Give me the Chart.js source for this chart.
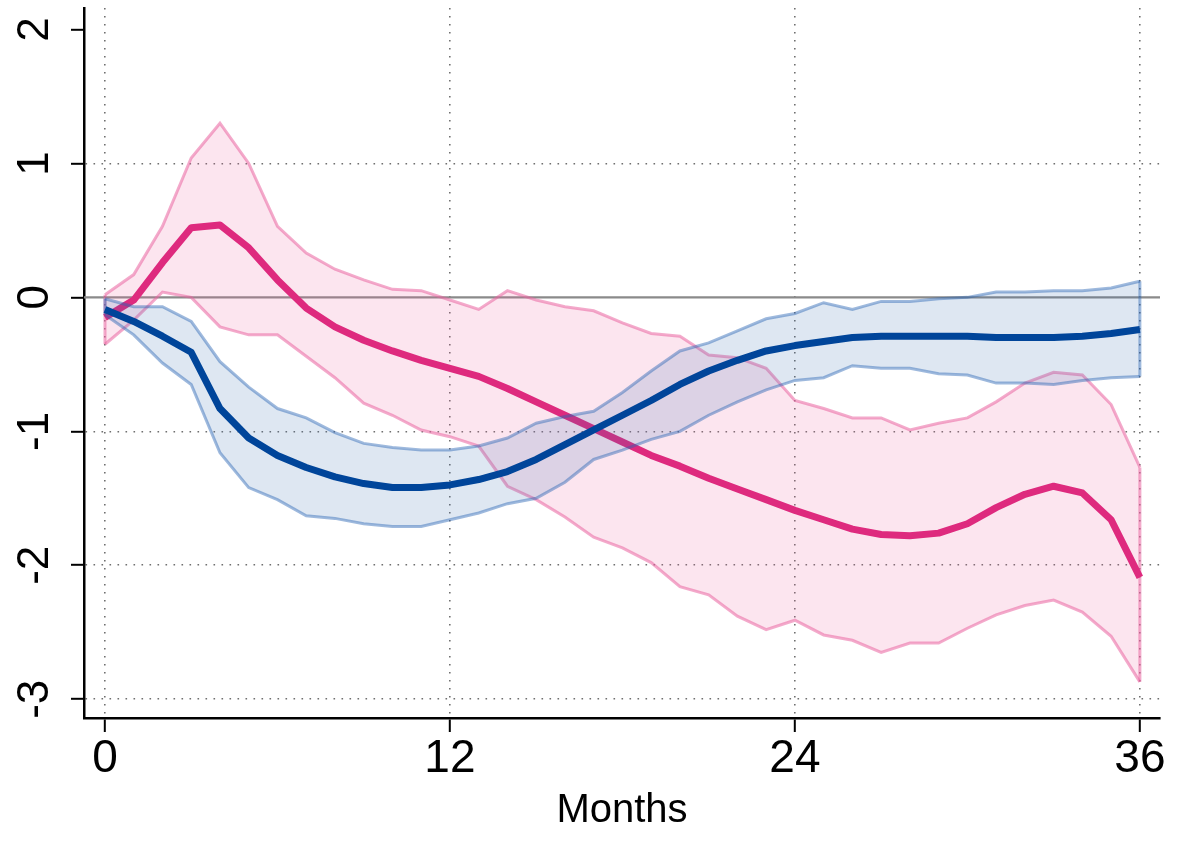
<!DOCTYPE html>
<html>
<head>
<meta charset="utf-8">
<script src="https://cdn.jsdelivr.net/npm/chart.js@4.4.1/dist/chart.umd.min.js"></script>
<style>
  html, body { margin: 0; padding: 0; background: #fff; }
  #c { display: block; }
</style>
</head>
<body>
<canvas id="c" width="1177" height="843"></canvas>
<script>
const months = [0,1,2,3,4,5,6,7,8,9,10,11,12,13,14,15,16,17,18,19,20,21,22,23,24,25,26,27,28,29,30,31,32,33,34,35,36];
const xTicks = [0, 12, 24, 36];
const yTicks = [-3, -2, -1, 0, 1, 2];
const xTitle = 'Months';

const blueMid = [-0.09,-0.18,-0.29,-0.41,-0.83,-1.05,-1.18,-1.27,-1.34,-1.39,-1.42,-1.42,-1.40,-1.36,-1.30,-1.21,-1.10,-0.99,-0.88,-0.77,-0.65,-0.55,-0.47,-0.40,-0.36,-0.33,-0.30,-0.29,-0.29,-0.29,-0.29,-0.30,-0.30,-0.30,-0.29,-0.27,-0.24];
const blueUp = [-0.01,-0.07,-0.07,-0.18,-0.48,-0.67,-0.83,-0.90,-1.01,-1.09,-1.12,-1.14,-1.14,-1.11,-1.05,-0.94,-0.89,-0.85,-0.71,-0.55,-0.40,-0.34,-0.25,-0.16,-0.12,-0.04,-0.09,-0.03,-0.03,-0.01,0.00,0.04,0.04,0.05,0.05,0.07,0.12];
const blueLo = [-0.13,-0.28,-0.49,-0.65,-1.16,-1.42,-1.51,-1.63,-1.65,-1.69,-1.71,-1.71,-1.66,-1.61,-1.54,-1.50,-1.38,-1.21,-1.14,-1.06,-1.00,-0.88,-0.78,-0.69,-0.62,-0.60,-0.51,-0.53,-0.53,-0.57,-0.58,-0.64,-0.64,-0.65,-0.62,-0.60,-0.59];

const pinkMid = [-0.15,-0.02,0.26,0.52,0.54,0.37,0.13,-0.08,-0.22,-0.32,-0.40,-0.47,-0.53,-0.59,-0.68,-0.78,-0.88,-0.98,-1.08,-1.18,-1.26,-1.35,-1.43,-1.51,-1.59,-1.66,-1.73,-1.77,-1.78,-1.76,-1.69,-1.57,-1.47,-1.41,-1.46,-1.66,-2.09];
const pinkUp = [0.02,0.17,0.53,1.04,1.30,1.00,0.53,0.33,0.21,0.13,0.06,0.05,-0.02,-0.09,0.05,-0.02,-0.07,-0.10,-0.19,-0.27,-0.29,-0.43,-0.45,-0.53,-0.77,-0.83,-0.90,-0.90,-0.99,-0.94,-0.90,-0.78,-0.64,-0.56,-0.58,-0.80,-1.27];
const pinkLo = [-0.35,-0.17,0.04,0.00,-0.22,-0.28,-0.28,-0.44,-0.60,-0.79,-0.88,-0.99,-1.04,-1.11,-1.41,-1.51,-1.64,-1.79,-1.87,-1.98,-2.16,-2.22,-2.38,-2.48,-2.41,-2.52,-2.56,-2.65,-2.58,-2.58,-2.47,-2.37,-2.30,-2.26,-2.35,-2.53,-2.87];

const FONT = "'Liberation Sans', Arial, Helvetica, sans-serif";

function pts(arr) { return months.map((m, i) => ({ x: m, y: arr[i] })); }
function edges(up, lo) {
  const a = 0, b = months.length - 1;
  return [
    { x: months[a], y: up[a] }, { x: months[a], y: lo[a] }, { x: months[a], y: null },
    { x: months[b], y: up[b] }, { x: months[b], y: lo[b] }
  ];
}

const blueC = '#00459a';
const blueBandLine = 'rgba(40,100,180,0.45)';
const blueFill = 'rgba(60,110,180,0.17)';
const pinkC = '#de2a7e';
const pinkBandLine = 'rgba(233,100,160,0.55)';
const pinkFill = 'rgba(236,100,160,0.17)';

const base = { pointRadius: 0, tension: 0, spanGaps: false };

const refLine = {
  id: 'refLine',
  beforeDatasetsDraw(chart) {
    const { ctx, chartArea, scales } = chart;
    const y = scales.y.getPixelForValue(0);
    ctx.save();
    ctx.strokeStyle = '#8a8a8a';
    ctx.lineWidth = 2.4;
    ctx.beginPath();
    ctx.moveTo(chartArea.left, y);
    ctx.lineTo(chartArea.right, y);
    ctx.stroke();
    ctx.restore();
  },
  afterDraw(chart) {
    const { ctx, scales } = chart;
    ctx.save();
    ctx.fillStyle = '#000';
    ctx.font = '44px ' + FONT;
    ctx.textAlign = 'center';
    ctx.textBaseline = 'alphabetic';
    yTicks.forEach(v => {
      const y = scales.y.getPixelForValue(v);
      ctx.save();
      ctx.translate(48, y);
      ctx.rotate(-Math.PI / 2);
      ctx.fillText(String(v), 0, 0);
      ctx.restore();
    });
    ctx.restore();
  }
};

new Chart(document.getElementById('c'), {
  type: 'line',
  data: {
    datasets: [
      { ...base, data: pts(blueMid), borderColor: blueC, borderWidth: 7, borderJoinStyle: 'round', fill: false },
      { ...base, data: pts(blueUp), borderColor: blueBandLine, borderWidth: 3, fill: false },
      { ...base, data: pts(blueLo), borderColor: blueBandLine, borderWidth: 3, backgroundColor: blueFill, fill: '-1' },
      { ...base, data: edges(blueUp, blueLo), borderColor: blueBandLine, borderWidth: 3, fill: false },
      { ...base, data: pts(pinkMid), borderColor: pinkC, borderWidth: 7, borderJoinStyle: 'round', fill: false },
      { ...base, data: pts(pinkUp), borderColor: pinkBandLine, borderWidth: 3, fill: false },
      { ...base, data: pts(pinkLo), borderColor: pinkBandLine, borderWidth: 3, backgroundColor: pinkFill, fill: '-1' },
      { ...base, data: edges(pinkUp, pinkLo), borderColor: pinkBandLine, borderWidth: 3, fill: false }
    ]
  },
  options: {
    responsive: false,
    animation: false,
    layout: { padding: { left: 0, right: 17, top: 8, bottom: 0 } },
    plugins: { legend: { display: false }, tooltip: { enabled: false } },
    scales: {
      x: {
        type: 'linear',
        min: -0.73,
        max: 36.7,
        afterBuildTicks: s => { s.ticks = xTicks.map(v => ({ value: v })); },
        afterFit: s => { s.height = 125; },
        ticks: {
          color: '#000',
          font: { size: 46, family: FONT },
          padding: 0,
          maxRotation: 0,
          callback: v => String(v)
        },
        grid: {
          color: '#6f6f6f',
          lineWidth: 1.6,
          tickColor: '#000',
          tickLength: 14,
          tickWidth: 2,
          tickBorderDash: [0, 0]
        },
        border: { display: true, color: '#000', width: 2.5, dash: [1.6, 6.4] },
        title: {
          display: true,
          text: xTitle,
          color: '#000',
          font: { size: 40, family: FONT },
          padding: { top: 0, bottom: 8 }
        }
      },
      y: {
        type: 'linear',
        min: -3.14,
        max: 2.16,
        afterBuildTicks: s => { s.ticks = yTicks.map(v => ({ value: v })); },
        afterFit: s => { s.width = 84; },
        ticks: { display: false },
        grid: {
          color: c => (c.tick && (c.tick.value === 0 || c.tick.value === 2)) ? 'rgba(0,0,0,0)' : '#6f6f6f',
          lineWidth: 1.6,
          tickColor: '#000',
          tickLength: 13,
          tickWidth: 2,
          tickBorderDash: [0, 0]
        },
        border: { display: true, color: '#000', width: 2.5, dash: [1.6, 6.4] }
      }
    }
  },
  plugins: [refLine]
});
</script>
</body>
</html>
